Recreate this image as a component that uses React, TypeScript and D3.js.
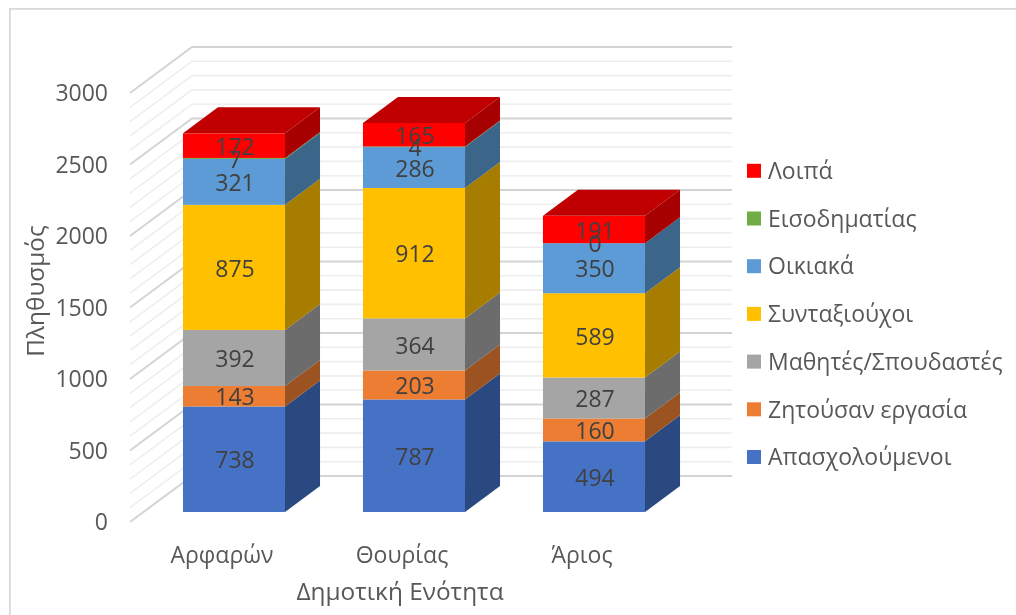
import React from "react";
import * as d3 from "d3";

const W = 1016, H = 615;
const categories = ["Αρφαρών", "Θουρίας", "Άριος"];
const seriesNames = ["Απασχολούμενοι", "Ζητούσαν εργασία", "Μαθητές/Σπουδαστές", "Συνταξιούχοι", "Οικιακά", "Εισοδηματίας", "Λοιπά"];
const apasx = [738, 787, 494];
const zitousan = [143, 203, 160];
const mathites = [392, 364, 287];
const syntax = [875, 912, 589];
const oikiaka = [321, 286, 350];
const eisod = [7, 4, 0];
const loipa = [172, 165, 191];
const seriesValues = [apasx, zitousan, mathites, syntax, oikiaka, eisod, loipa];
const frontColors = ["#4472c4", "#ed7d31", "#a5a5a5", "#ffc000", "#5b9bd5", "#70ad47", "#ff0000"];
const sideColors = ["#2a4a80", "#9c5220", "#6c6c6c", "#a67d00", "#3b6589", "#48702d", "#a60000"];
const topColor = "#c00000";
const yTicks = d3.range(0, 3001, 100);

const FONT = "'Open Sans', 'Noto Sans', sans-serif";
const TEXT = "#595959";

const y = d3.scaleLinear().domain([0, 3000]).range([522, 93]);
const x = d3.scaleBand().domain(categories).range([144, 684]).paddingInner(0.433).paddingOuter(0.2165);
const wall = { dx: 62, dy: -46 };
const barDepth = { dx: 35, dy: -26 };
const barLift = -10;

export default function App() {
  const stacks = d3.stack<number>().keys(d3.range(seriesNames.length) as any).value((i: number, k: any) => seriesValues[k][i])(d3.range(categories.length));
  const lr = (h: number) => y(h) + barLift;
  return (
    <svg width={W} height={H} style={{ position: "absolute", left: 0, top: 0, background: "#fff" }} fontFamily={FONT}>
      <defs>
        <filter id="soft" x="0" y="0" width="100%" height="100%"><feGaussianBlur stdDeviation="0.45" /></filter>
      </defs>
      <g filter="url(#soft)">
        <rect x={9.5} y={8.5} width={W + 20} height={H + 20} fill="#fff" stroke="#d9d9d9" strokeWidth={2.5} />
        {yTicks.map((t) => {
          const major = t % 500 === 0;
          const c = major ? "#d4d4d4" : "#eeeeee";
          return (
            <path key={t} stroke={c} strokeWidth={major ? 2 : 1.6} fill="none"
              d={`M${130},${y(t)}L${130 + wall.dx},${y(t) + wall.dy}L${732},${y(t) + wall.dy}`} />
          );
        })}
        {categories.map((c, i) => {
          const x0 = x(c)!, x1 = x0 + x.bandwidth();
          const tops = lr(stacks[stacks.length - 1][i][1]);
          return (
            <g key={c}>
              {stacks.map((s, k) => {
                const [a, b] = s[i];
                if (b - a <= 0) return null;
                const ya = lr(a), yb = lr(b);
                return (
                  <g key={k}>
                    <rect x={x0} y={yb} width={x1 - x0} height={ya - yb} fill={frontColors[k]} />
                    <path d={`M${x1},${ya}L${x1 + barDepth.dx},${ya + barDepth.dy}L${x1 + barDepth.dx},${yb + barDepth.dy}L${x1},${yb}Z`} fill={sideColors[k]} />
                  </g>
                );
              })}
              <path d={`M${x0},${tops}L${x0 + barDepth.dx},${tops + barDepth.dy}L${x1 + barDepth.dx},${tops + barDepth.dy}L${x1},${tops}Z`} fill={topColor} />
              {stacks.map((s, k) => {
                const [a, b] = s[i];
                return (
                  <text key={k} x={(x0 + x1) / 2 + 1} y={lr((a + b) / 2)} dy="0.4em" textAnchor="middle" fontSize={23} fill="#404040">
                    {seriesValues[k][i]}
                  </text>
                );
              })}
            </g>
          );
        })}
        {y.ticks(6).map((t) => (
          <text key={t} x={108} y={y(t)} dy="0.36em" textAnchor="end" fontSize={23} fill={TEXT}>{t}</text>
        ))}
        {categories.map((c) => (
          <text key={c} x={x(c)! + x.bandwidth() / 2 - 12} y={563} textAnchor="middle" fontSize={23} fill={TEXT}>{c}</text>
        ))}
        <text x={400} y={600} textAnchor="middle" fontSize={24.4} fill={TEXT}>Δημοτική Ενότητα</text>
        <text transform="translate(44,291) rotate(-90)" textAnchor="middle" fontSize={24.4} fill={TEXT}>Πληθυσμός</text>
        {seriesNames.map((n, k) => {
          const ly = 457 - k * 47.7;
          return (
            <g key={n}>
              <rect x={747} y={ly - 7} width={14} height={14} fill={frontColors[k]} />
              <text x={768} y={ly} dy="0.36em" fontSize={23} fill={TEXT}>{n}</text>
            </g>
          );
        })}
      </g>
    </svg>
  );
}
